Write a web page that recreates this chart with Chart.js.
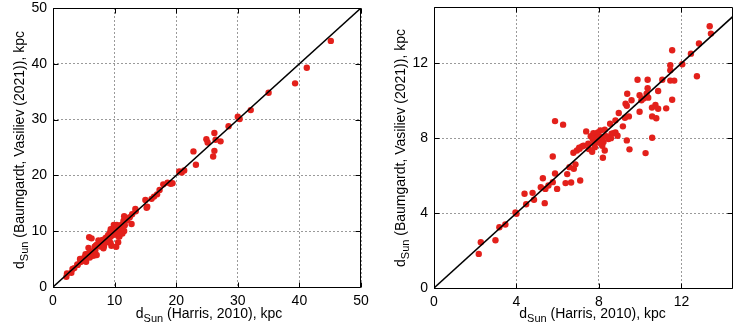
<!DOCTYPE html>
<html>
<head>
<meta charset="utf-8">
<script src="https://cdn.jsdelivr.net/npm/chart.js@4"></script>
<style>
  body { margin: 0; background: #fff; }
  #wrap { position: relative; width: 733px; height: 327px; }
  canvas { position: absolute; top: 0; }
</style>
</head>
<body>
<div id="wrap">
  <canvas id="leftChart" width="370" height="327" style="left:0"></canvas>
  <canvas id="rightChart" width="363" height="327" style="left:370px"></canvas>
</div>
<script>
// distance to the Sun, kpc: Harris (2010) vs Baumgardt & Vasiliev (2021)
const dHarris = [
  2.17, 2.27, 2.98, 3.17, 3.46, 3.95, 4.00, 4.39, 4.47, 4.78, 4.85, 5.18, 5.28, 5.37, 5.40, 5.55,
  5.76, 5.76, 5.87, 5.87, 5.97, 6.26, 6.38, 6.46, 6.57, 6.65, 6.76, 6.78, 6.86, 6.93, 7.09, 7.06,
  7.18, 7.38, 7.48, 7.51, 7.67, 7.73, 7.80, 7.86, 7.90, 7.96, 8.01, 8.07, 8.12, 8.16, 8.19, 8.22,
  8.28, 8.28, 8.46, 8.54, 8.61, 8.71, 8.80, 8.80, 8.90, 8.96, 9.16, 9.26, 9.29, 9.35, 9.37, 9.35,
  9.45, 9.48, 9.58, 9.87, 9.97, 9.97, 10.06, 10.16, 10.26, 10.31, 10.36, 10.36, 10.39, 10.57, 10.58, 10.58,
  10.74, 10.78, 10.87, 10.87, 11.07, 11.26, 11.46, 11.46, 11.46, 11.55, 11.55, 11.65, 12.04, 12.46, 12.75, 12.85,
  13.37, 13.43,
  7.60, 7.70, 7.95, 8.10, 8.35, 8.58, 7.77, 7.04, 7.25, 7.95,
  15.0, 15.2, 15.3, 16.0, 16.4, 16.9, 17.3, 17.9, 18.6, 19.1, 19.4, 20.5, 20.9, 21.3, 22.8, 23.2,
  24.9, 25.1, 26.0, 26.2, 26.2, 26.4, 27.2, 28.5, 30.0, 30.3, 32.1, 35.0, 39.3, 41.2, 45.1
];
const dBV = [
  1.82, 2.44, 2.55, 3.24, 3.39, 4.03, 3.96, 5.03, 4.47, 5.08, 4.71, 5.38, 5.86, 4.53, 5.29, 5.47,
  7.02, 5.65, 8.91, 6.11, 5.29, 8.72, 5.60, 6.08, 6.45, 5.63, 7.22, 6.36, 6.60, 7.34, 5.74, 7.43,
  7.56, 8.36, 7.70, 7.42, 7.27, 8.27, 7.52, 8.24, 8.06, 7.79, 7.91, 8.41, 8.06, 7.59, 6.95, 7.79,
  8.45, 7.34, 7.95, 8.77, 8.24, 8.27, 8.95, 8.31, 8.13, 9.34, 8.63, 9.09, 9.84, 9.73, 10.37, 7.88,
  9.16, 7.40, 10.02, 11.12, 10.29, 9.41, 10.02, 10.11, 7.20, 10.37, 11.12, 10.66, 10.16, 9.63, 8.02, 9.16,
  9.77, 9.06, 10.52, 9.57, 11.12, 9.59, 11.89, 11.62, 11.07, 12.69, 10.05, 11.07, 11.94, 12.51, 11.30, 13.05,
  13.97, 13.58,
  8.10, 7.95, 8.30, 7.70, 8.10, 8.00, 7.75, 7.49, 7.60, 8.05,
  15.6, 14.2, 14.4, 15.8, 16.2, 16.6, 17.4, 18.4, 18.7, 18.5, 18.6, 20.7, 20.5, 20.9, 24.3, 21.9,
  26.5, 25.9, 23.4, 27.6, 24.4, 26.4, 26.1, 28.8, 30.5, 30.1, 31.7, 34.8, 36.5, 39.3, 44.1
];
const leftTicks = [0, 10, 20, 30, 40, 50];
const rightTicks = [0, 4, 8, 12];
const xTitle = ' (Harris, 2010), kpc';
const yTitle = ' (Baumgardt, Vasiliev (2021)), kpc';

const FONT = '"Liberation Sans", Arial, sans-serif';
const points = dHarris.map((x, i) => ({ x: x, y: dBV[i] }));

function titleText(ctx, cx, cy, rot, rest) {
  ctx.save();
  ctx.translate(cx, cy);
  ctx.rotate(rot);
  ctx.fillStyle = '#000';
  ctx.textBaseline = 'alphabetic';
  ctx.font = '14px ' + FONT;
  const wd = ctx.measureText('d').width;
  const wr = ctx.measureText(rest).width;
  ctx.font = '11px ' + FONT;
  const ws = ctx.measureText('Sun').width;
  let x = -(wd + ws + wr) / 2;
  ctx.font = '14px ' + FONT;
  ctx.fillText('d', x, 0);
  x += wd;
  ctx.font = '11px ' + FONT;
  ctx.fillText('Sun', x, 4);
  x += ws;
  ctx.font = '14px ' + FONT;
  ctx.fillText(rest, x, 0);
  ctx.restore();
}

// box, inward tick marks and the axis titles with the subscript
const framePlugin = {
  id: 'frame',
  afterDraw(chart, args, opts) {
    const { ctx, chartArea: a, scales } = chart;
    const L = Math.round(a.left) + 0.5, R = Math.round(a.right) - 0.5;
    const T = Math.round(a.top) + 0.5, B = Math.round(a.bottom) + 0.5;
    ctx.save();
    ctx.strokeStyle = '#000';
    ctx.lineWidth = 1;
    ctx.beginPath();
    ctx.rect(L, T, R - L, B - T);
    scales.x.ticks.forEach(t => {
      const x = Math.round(scales.x.getPixelForValue(t.value)) + 0.5;
      ctx.moveTo(x, B); ctx.lineTo(x, B - 5);
      ctx.moveTo(x, T); ctx.lineTo(x, T + 5);
    });
    scales.y.ticks.forEach(t => {
      const y = Math.round(scales.y.getPixelForValue(t.value)) + 0.5;
      ctx.moveTo(L, y); ctx.lineTo(L + 5, y);
      ctx.moveTo(R, y); ctx.lineTo(R - 5, y);
    });
    ctx.stroke();
    ctx.restore();
    titleText(ctx, (a.left + a.right) / 2 + opts.xShift, 318, 0, xTitle);
    titleText(ctx, a.left - 29, opts.yCenter, -Math.PI / 2, yTitle);
  }
};

function makeChart(id, max, ticks, o) {
  const axis = (mx, size, isX) => ({
    type: 'linear',
    min: 0,
    max: mx,
    afterBuildTicks: s => { s.ticks = ticks.map(v => ({ value: v })); },
    afterFit: s => {
      if (isX) s.height = size; else s.width = size;
      s.paddingLeft = s.paddingRight = s.paddingTop = s.paddingBottom = 0;
    },
    grid: { color: '#9a9a9a', lineWidth: 1, drawTicks: false },
    border: { display: false, dash: [2, 2] },
    ticks: { color: '#000', font: { family: FONT, size: 14 }, padding: 6 }
  });
  return new Chart(document.getElementById(id), {
    type: 'scatter',
    data: {
      datasets: [
        {
          data: [0, max[1]].map(v => ({ x: v, y: v })),
          showLine: true,
          borderColor: '#000',
          borderWidth: 1.5,
          pointRadius: 0
        },
        {
          data: points,
          backgroundColor: '#e3201b',
          borderWidth: 0,
          pointRadius: 3.2
        }
      ]
    },
    options: {
      responsive: false,
      animation: false,
      layout: { autoPadding: false, padding: { top: o.top, right: o.right, left: 0, bottom: 0 } },
      scales: {
        x: axis(max[0], o.xh, true),
        y: axis(max[1], o.yw, false)
      },
      plugins: {
        legend: { display: false },
        tooltip: { enabled: false },
        frame: { xShift: o.xShift, yCenter: o.yCenter }
      }
    },
    plugins: [framePlugin]
  });
}

makeChart('leftChart', [50, 50], leftTicks, { top: 8, right: 9, xh: 40, yw: 53, xShift: 2, yCenter: 150 });
makeChart('rightChart', [14.5, 15], rightTicks, { top: 7, right: 0, xh: 39, yw: 64, xShift: 9, yCenter: 148 });
</script>
</body>
</html>
